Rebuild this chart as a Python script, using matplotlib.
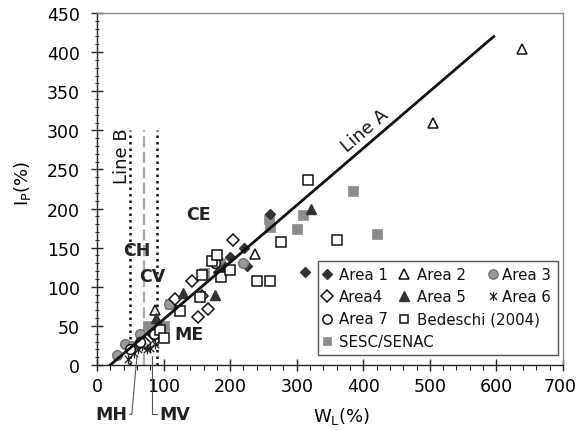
import matplotlib
matplotlib.use('Agg')
import matplotlib.pyplot as plt
from matplotlib.path import Path
from matplotlib.patches import Rectangle
from matplotlib.transforms import ScaledTranslation
import math

plt.rcParams['font.family'] = ['DejaVu Sans']

# ---------------- data ----------------
series_names = ['Area 1', 'Area 2', 'Area 3', 'Area4', 'Area 5', 'Area 6',
                'Area 7', 'Bedeschi (2004)', 'SESC/SENAC']

area1_wl = [182, 192, 200, 221, 226, 260, 313]
area1_ip = [119, 125, 138, 150, 126, 193, 119]

area2_wl = [87, 237, 504, 638]
area2_ip = [70, 142, 309, 404]

area3_wl = [30, 42, 52, 65, 108, 219]
area3_ip = [13, 27, 24, 40, 78, 130]

area4_wl = [72, 85, 117, 142, 152, 157, 167, 175, 204]
area4_ip = [28, 38, 85, 108, 61, 88, 72, 132, 160]

area5_wl = [88, 129, 177, 321]
area5_ip = [60, 92, 89, 199]

area6_wl = [46, 55, 62, 68, 75, 80, 87]
area6_ip = [8, 15, 20, 24, 20, 22, 27]

area7_wl = [50, 64, 85, 175, 178]
area7_ip = [20, 30, 40, 134, 130]

bedeschi_wl = [95, 100, 124, 155, 157, 172, 180, 187, 200, 240, 260, 277, 317, 360]
bedeschi_ip = [45, 35, 69, 87, 115, 133, 141, 112, 122, 108, 108, 157, 236, 160]

sesc_wl = [77, 101, 110, 160, 185, 259, 260, 300, 310, 384, 420]
sesc_ip = [50, 50, 78, 117, 131, 187, 176, 174, 192, 223, 167]

lineA_wl = [20, 596]
lineA_ip = [0, 420]

vline_wl = [50, 70, 90]
vline_ip = [0, 300]

x_ticks = [0, 100, 200, 300, 400, 500, 600, 700]
y_ticks = [0, 50, 100, 150, 200, 250, 300, 350, 400, 450]

zone_labels = ['CE', 'CH', 'CV', 'ME']
zone_wl = [152, 60, 83, 138]
zone_ip = [193, 147, 114, 40]

# ---------------- styles ----------------
star = Path([(-1, -1), (1, 1), (-1, 1), (1, -1), (0, -1.3), (0, 1.3)],
            [Path.MOVETO, Path.LINETO, Path.MOVETO, Path.LINETO,
             Path.MOVETO, Path.LINETO])

dark = '#333333'
styles = [
    dict(marker='D', ms=5.5, mfc=dark, mec=dark, mew=1.0),
    dict(marker='^', ms=7.5, mfc='white', mec='#111111', mew=1.1),
    dict(marker='o', ms=7.0, mfc='#999999', mec='#707070', mew=1.0),
    dict(marker='D', ms=6.0, mfc='white', mec='#111111', mew=1.1),
    dict(marker='^', ms=7.5, mfc=dark, mec=dark, mew=1.0),
    dict(marker=star, ms=7.0, mfc='none', mec='#222222', mew=0.9),
    dict(marker='o', ms=7.0, mfc='white', mec='#111111', mew=1.1),
    dict(marker='s', ms=6.5, mfc='white', mec='#111111', mew=1.1),
    dict(marker='s', ms=6.5, mfc='#8c8c8c', mec='#8c8c8c', mew=0.5),
]
series_data = [(area1_wl, area1_ip), (area2_wl, area2_ip), (area3_wl, area3_ip),
               (area4_wl, area4_ip), (area5_wl, area5_ip), (area6_wl, area6_ip),
               (area7_wl, area7_ip), (bedeschi_wl, bedeschi_ip), (sesc_wl, sesc_ip)]

# ---------------- figure ----------------
fig = plt.figure(figsize=(5.78, 4.31), dpi=100)
ax = fig.add_axes([97 / 578, 65 / 431, 466 / 578, 352 / 431])
ax.set_xlim(0, 700)
ax.set_ylim(0, 450)

# vertical lines
ax.plot([vline_wl[0]] * 2, vline_ip, color='#111111', lw=1.8,
        linestyle=(0, (1.0, 1.6)), zorder=2)
ax.plot([vline_wl[1]] * 2, vline_ip, color='#aaaaaa', lw=1.6,
        linestyle=(0, (5, 2)), zorder=2)
ax.plot([vline_wl[2]] * 2, vline_ip, color='#111111', lw=1.8,
        linestyle=(0, (1.0, 1.6)), zorder=2)

# series (draw SESC first so it sits underneath)
order = [8, 0, 1, 2, 3, 4, 5, 6, 7]
for i in order:
    xs, ys = series_data[i]
    ax.plot(xs, ys, linestyle='none', zorder=3, clip_on=False, **styles[i])

# Line A
ax.plot(lineA_wl, lineA_ip, color='#111111', lw=2.0, zorder=4)
p1 = ax.transData.transform((lineA_wl[0], lineA_ip[0]))
p2 = ax.transData.transform((lineA_wl[1], lineA_ip[1]))
ang = math.degrees(math.atan2(p2[1] - p1[1], p2[0] - p1[0]))
ax.text(402, 300, 'Line A', rotation=ang, rotation_mode='anchor',
        ha='center', va='center', fontsize=13, color='#111111')
ax.text(37, 268, 'Line B', rotation=90, ha='center', va='center',
        fontsize=13, color='#111111')

for lab, xw, yi in zip(zone_labels, zone_wl, zone_ip):
    ax.text(xw, yi, lab, fontsize=12.5, fontweight='bold', ha='center',
            va='center', color='#222222', zorder=5)

ax.annotate('MH', xy=(60, 12), xytext=(21, -63), textcoords='data',
            fontsize=12.5, fontweight='bold', ha='center', va='center',
            color='#222222', annotation_clip=False,
            arrowprops=dict(arrowstyle='-', color='#555555', lw=0.8,
                            shrinkA=0, shrinkB=0, relpos=(1, 0.5),
                            connectionstyle='angle,angleA=0,angleB=85,rad=0'))
ax.annotate('MV', xy=(83, 12), xytext=(117, -63), textcoords='data',
            fontsize=12.5, fontweight='bold', ha='center', va='center',
            color='#222222', annotation_clip=False,
            arrowprops=dict(arrowstyle='-', color='#555555', lw=0.8,
                            shrinkA=0, shrinkB=0, relpos=(0, 0.5),
                            connectionstyle='angle,angleA=0,angleB=90,rad=0'))

# spines & ticks
for s in ['top', 'right']:
    ax.spines[s].set_color('#888888')
    ax.spines[s].set_linewidth(1.0)
for s in ['left', 'bottom']:
    ax.spines[s].set_color('#222222')
    ax.spines[s].set_linewidth(1.0)

ax.set_xticks(x_ticks)
ax.set_yticks(y_ticks)
ax.set_xticks(range(0, 701, 20), minor=True)
ax.set_yticks(range(0, 451, 10), minor=True)
ax.tick_params(axis='x', which='major', direction='inout', length=8,
               width=1.0, color='#222222', labelsize=12.5, pad=5)
ax.tick_params(axis='x', which='minor', direction='out', length=3.5,
               width=0.8, color='#222222')
ax.tick_params(axis='y', which='major', direction='inout', length=9,
               width=1.0, color='#222222', labelsize=12.5, pad=8)
ax.tick_params(axis='y', which='minor', direction='inout', length=3.5,
               width=0.8, color='#222222')

# nudge the last x tick label so it stays inside the figure
last = ax.get_xticklabels()[-1]
last.set_transform(last.get_transform() +
                   ScaledTranslation(-3 / 100, 0, fig.dpi_scale_trans))

ax.set_xlabel(r'W$_\mathregular{L}$(%)', fontsize=13)
ax.set_ylabel(r'I$_\mathregular{P}$(%)', fontsize=13)
ax.xaxis.set_label_coords(0.524, -0.115)
ax.yaxis.set_label_coords(-0.138, 0.52)

# legend (table layout, 3 columns)
legend_rows = [[0, 1, 2], [3, 4, 5], [6, 7], [8]]
row_y = [0.2585, 0.195, 0.131, 0.067]
col_marker_x = [0.493, 0.659, 0.850]
col_text_x = [0.519, 0.686, 0.869]
ax.add_patch(Rectangle((0.474, 0.028), 0.515, 0.267, transform=ax.transAxes,
                       facecolor='white', edgecolor='#555555', lw=1.0,
                       zorder=6))
for r, row in enumerate(legend_rows):
    for c, idx in enumerate(row):
        st = dict(styles[idx])
        st['ms'] = st['ms'] * 0.95
        ax.plot([col_marker_x[c]], [row_y[r]], transform=ax.transAxes,
                linestyle='none', clip_on=False, zorder=7, **st)
        ax.text(col_text_x[c], row_y[r], series_names[idx],
                transform=ax.transAxes, fontsize=10.8, ha='left',
                va='center', color='#111111', zorder=7)

fig.savefig('out.png', dpi=100)
